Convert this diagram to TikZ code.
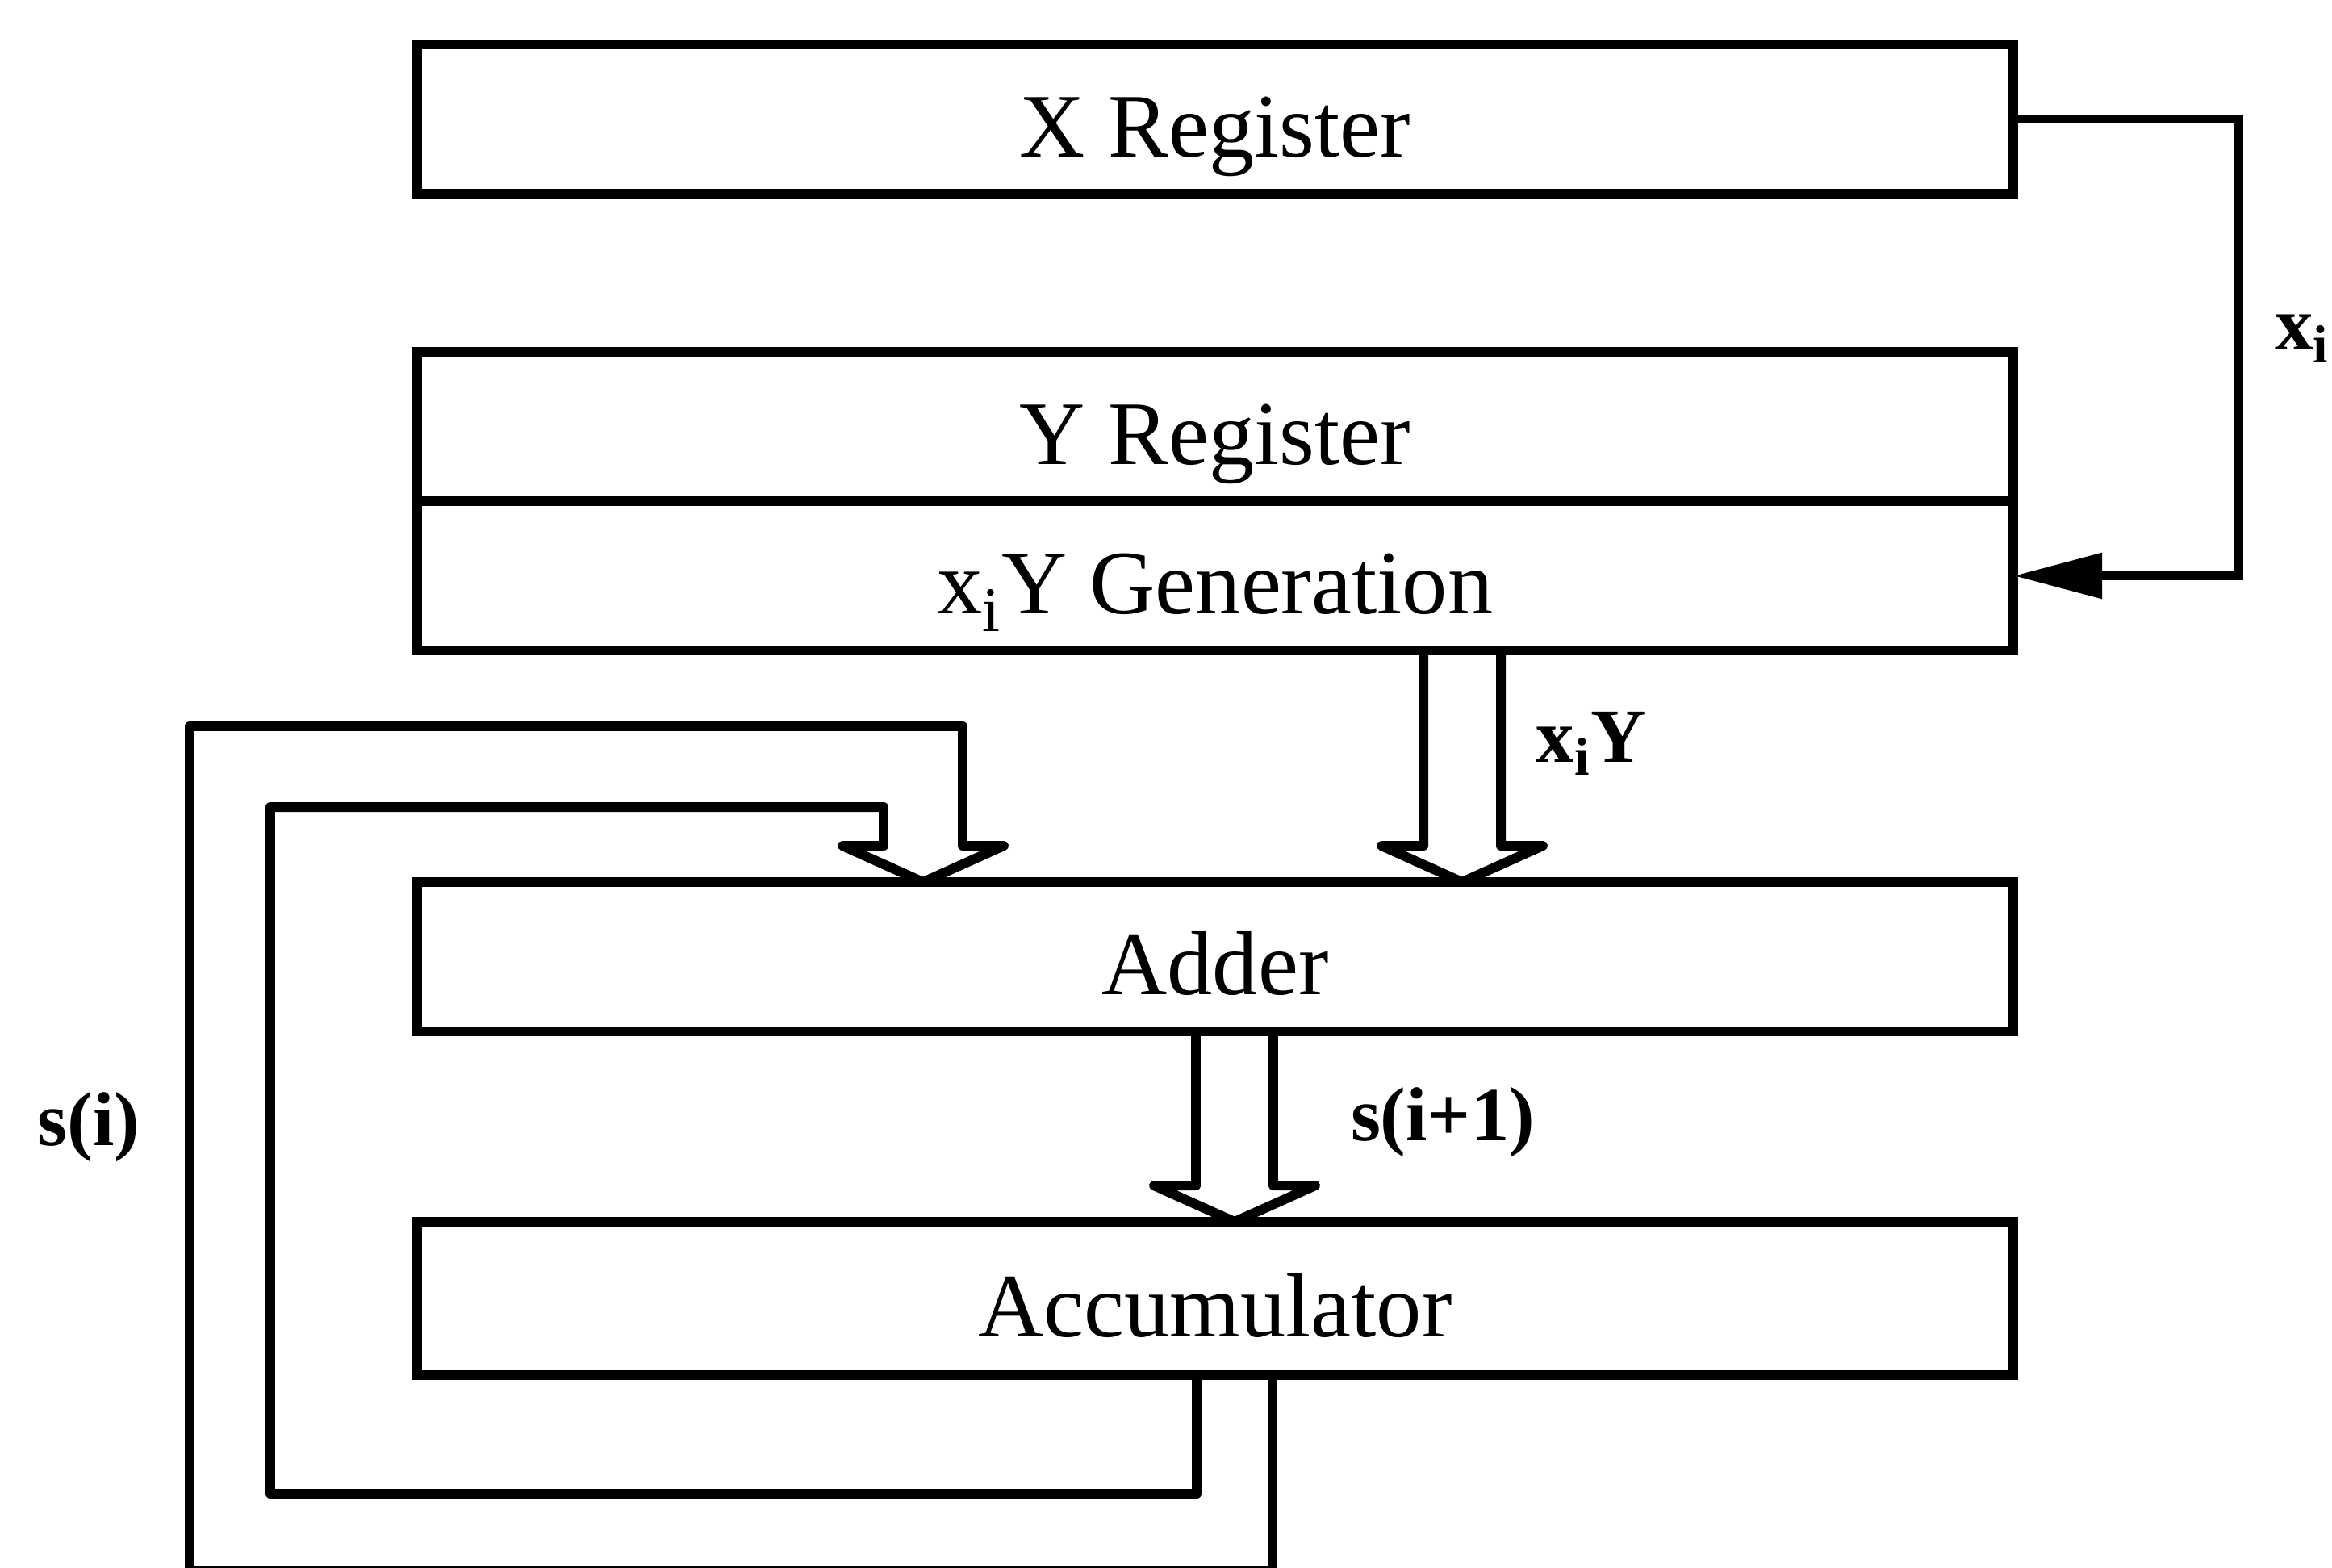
\documentclass[tikz,border=0pt]{standalone}
\usepackage{fontspec}
\setmainfont{Liberation Serif}
\usetikzlibrary{positioning, arrows.meta, calc}

\tikzset{
  block/.style={draw, line width=3.6pt, minimum width=19.78cm, minimum height=1.85cm,
    inner sep=0pt, outer sep=0pt, text height=33.8pt, text depth=7pt,
    font=\fontsize{32}{38}\selectfont},
  hollow/.style={draw, line width=3.4pt, line join=round},
  lbl/.style={font=\fontsize{27}{32}\selectfont\bfseries},
}
\newcommand{\fatdown}[3]{%
  \draw[hollow] ($(#1.south -| #3)+(-0.48,0)$) -- ($(#2.north -| #3)+(-0.48,0.45)$)
    -- ++(-0.52,0) -- (#2.north -| #3) -- ++(1,0.45) -- ++(-0.52,0)
    -- ($(#1.south -| #3)+(0.48,0)$);}

\begin{document}
\begin{tikzpicture}[>={Triangle[length=11mm,width=5.4mm]}]
      \useasboundingbox (0,0) rectangle (28.9,-19.42);
      \node[block] (xreg) at (15.06,-1.475) {X Register};
      \node[block,below=1.96cm of xreg] (yreg) {Y Register};
      \node[block,below=0cm of yreg] (ygen) {x\textsubscript{i}Y Generation};
      \node[block,below=2.87cm of ygen] (adder) {Adder};
      \node[block,below=2.36cm of adder,minimum height=1.9cm] (accum) {Accumulator};
      \coordinate (xcol) at (27.74,0);
      \coordinate (cxy) at (18.12,0);
      \coordinate (csum) at (15.30,0);
      \coordinate (cfb) at (11.44,0);
      \draw[line width=3.4pt,->] (xreg.east) -- (xreg.east -| xcol)
        -- (ygen.east -| xcol) -- (ygen.east);
      \fatdown{ygen}{adder}{cxy}
      \fatdown{adder}{accum}{csum}
      \draw[hollow] ($(accum.south -| csum)+(-0.47,0)$) |- (3.35,-18.51)
        |- ($(adder.north -| cfb)+(-0.49,0.93)$) -- ($(adder.north -| cfb)+(-0.49,0.45)$)
        -- ++(-0.51,0) -- (adder.north -| cfb) -- ++(1,0.45) -- ++(-0.51,0)
        -- ++(0,1.48) -| (2.35,-19.46) -| ($(accum.south -| csum)+(0.47,0)$);
      \node[lbl] (lxi) at (28.53,-4.20) {x\textsubscript{i}};
      \node[lbl] (lxiy) at (19.72,-9.21) {x\textsubscript{i}Y};
      \node[lbl] (lsum) at (17.88,-13.91) {s(i+1)};
      \node[lbl] (lsi) at (1.10,-13.97) {s(i)};
    \end{tikzpicture}
\end{document}
